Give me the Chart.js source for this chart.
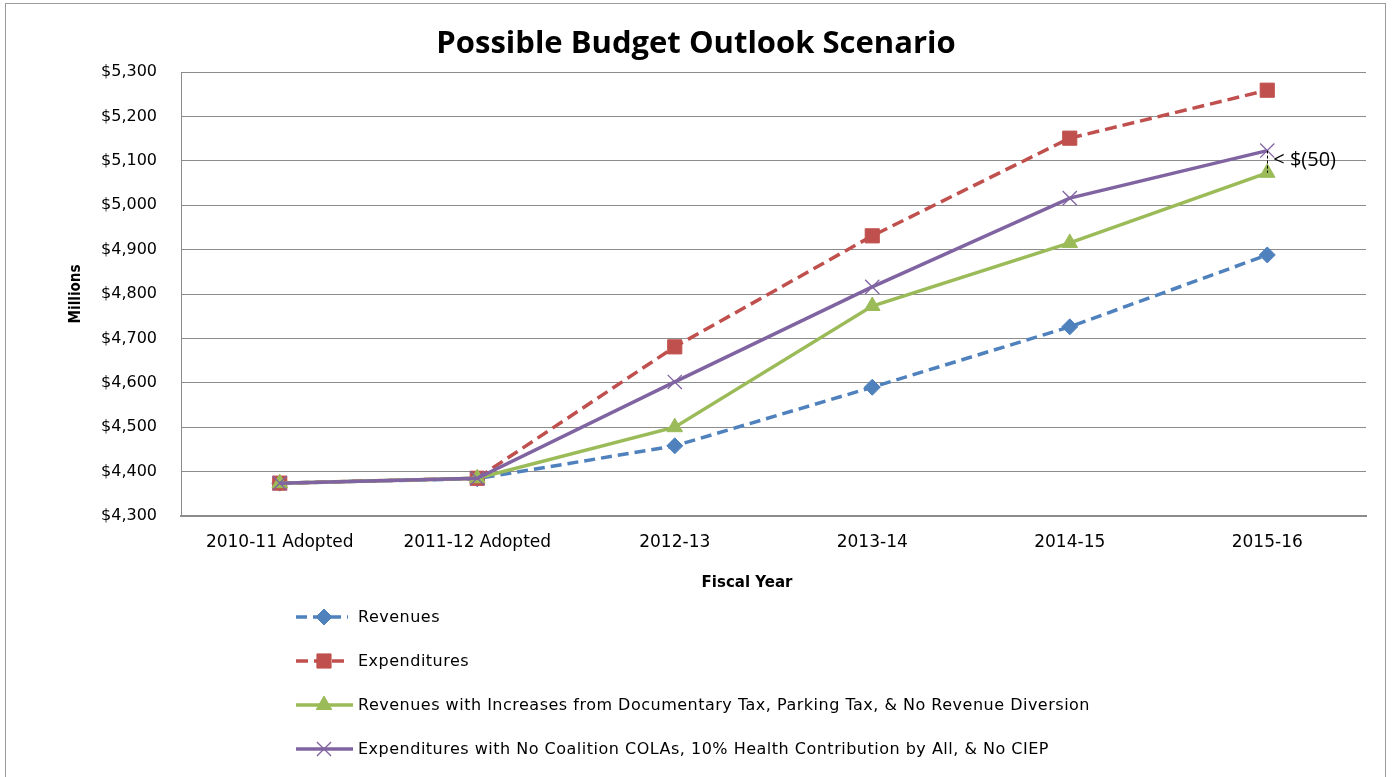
<!DOCTYPE html>
<html>
<head>
<meta charset="utf-8">
<title>Possible Budget Outlook Scenario</title>
<script src="https://cdn.jsdelivr.net/npm/chart.js@4.4.1/dist/chart.umd.min.js"></script>
<style>
  html, body { margin: 0; padding: 0; background: #fff; overflow: hidden; }
  #wrap { width: 1395px; height: 777px; position: relative; }
</style>
</head>
<body>
<div id="wrap"><canvas id="budget" width="1395" height="777"></canvas></div>
<script>
// Fiscal years and projected totals ($ millions)
const fiscalYears = ['2010-11 Adopted', '2011-12 Adopted', '2012-13', '2013-14', '2014-15', '2015-16'];
const revenues = [4374, 4384, 4458, 4590, 4726, 4888];
const expenditures = [4374, 4385, 4681, 4931, 5151, 5259];
const revenuesWithIncreases = [4374, 4385, 4500, 4773, 4915, 5073];
const expendituresReduced = [4374, 4385, 4602, 4816, 5016, 5123];
const yTicks = [4300, 4400, 4500, 4600, 4700, 4800, 4900, 5000, 5100, 5200, 5300];

const seriesNames = [
  'Revenues',
  'Expenditures',
  'Revenues with Increases from Documentary Tax, Parking Tax, & No Revenue Diversion',
  'Expenditures with No Coalition COLAs, 10% Health Contribution by All, & No CIEP'
];
const gapLabel = '< $(50)';
const titleText = 'Possible Budget Outlook Scenario';
const xTitle = 'Fiscal Year';

const BLUE = '#4F81BD', RED = '#C0504D', GREEN = '#9BBB59', PURPLE = '#8064A2';
const GRID = '#8c8c8c';

const fmtMoney = v => '$' + v.toLocaleString('en-US');

// Frame, titles, legend and the gap marker at the last year
const decorations = {
  id: 'decorations',
  beforeDraw(chart) {
    const ctx = chart.ctx;
    ctx.save();
    ctx.fillStyle = '#fff';
    ctx.fillRect(0, 0, chart.width, chart.height);
    ctx.strokeStyle = '#9a9a9a';
    ctx.lineWidth = 1;
    ctx.strokeRect(5.5, 3.5, 1380, 790);
    ctx.restore();
  },
  afterDraw(chart) {
    const ctx = chart.ctx;
    const x = chart.scales.x, y = chart.scales.y;
    ctx.save();

    // chart title
    ctx.fillStyle = '#000';
    ctx.font = 'bold 31px "Open Sans"';
    ctx.textAlign = 'center';
    ctx.textBaseline = 'middle';
    ctx.fillText(titleText, 696, 44);

    // category axis title
    ctx.font = 'bold 15px "DejaVu Sans"';
    ctx.fillText(xTitle, 747, 583);

    // dashed gap marker between the two reduced-scenario lines
    const last = fiscalYears.length - 1;
    const gx = x.getPixelForValue(last);
    const gTop = y.getPixelForValue(expendituresReduced[last]);
    const gBot = y.getPixelForValue(revenuesWithIncreases[last]);
    ctx.strokeStyle = '#000';
    ctx.lineWidth = 1;
    ctx.setLineDash([3, 2]);
    ctx.beginPath();
    ctx.moveTo(Math.round(gx) + 0.5, gTop);
    ctx.lineTo(Math.round(gx) + 0.5, gBot);
    ctx.stroke();
    ctx.setLineDash([]);
    ctx.font = '20px "Open Sans"';
    ctx.textAlign = 'left';
    ctx.textBaseline = 'middle';
    ctx.fillText(gapLabel, gx + 6, (gTop + gBot) / 2 - 1);

    // legend, one entry per row
    chart.data.datasets.forEach((ds, i) => {
      const ly = 617 + i * 44;
      ctx.strokeStyle = ds.borderColor;
      ctx.fillStyle = ds.borderColor;
      ctx.lineWidth = ds.borderWidth;
      ctx.setLineDash(ds.borderDash || []);
      ctx.lineCap = 'butt';
      ctx.beginPath();
      ctx.moveTo(296, ly);
      ctx.lineTo(ds.borderDash ? 348 : 353, ly);
      ctx.stroke();
      ctx.setLineDash([]);
      ctx.lineWidth = ds.pointBorderWidth;
      Chart.helpers.drawPoint(ctx, {
        pointStyle: ds.pointStyle,
        radius: ds.pointRadius,
        rotation: 0,
        borderWidth: ds.pointBorderWidth
      }, 324, ly);
      ctx.fillStyle = '#000';
      ctx.font = '16px "DejaVu Sans"';
      ctx.letterSpacing = '0.5px';
      ctx.textAlign = 'left';
      ctx.textBaseline = 'middle';
      ctx.fillText(ds.label, 358, ly + 1);
      ctx.letterSpacing = '0px';
    });
    ctx.restore();
  }
};

function series(label, data, color, opts) {
  return Object.assign({
    label, data,
    borderColor: color,
    backgroundColor: color,
    pointBackgroundColor: color,
    pointBorderColor: color,
    borderWidth: 3.5,
    pointBorderWidth: 1,
    tension: 0,
    fill: false
  }, opts);
}

new Chart(document.getElementById('budget'), {
  type: 'line',
  data: {
    labels: fiscalYears,
    datasets: [
      series(seriesNames[0], revenues, BLUE, { borderDash: [11, 6], pointStyle: 'rectRot', pointRadius: 8, order: 4 }),
      series(seriesNames[1], expenditures, RED, { borderDash: [12, 6], pointStyle: 'rect', pointRadius: 10, order: 3 }),
      series(seriesNames[2], revenuesWithIncreases, GREEN, { pointStyle: 'triangle', pointRadius: 9, order: 2 }),
      series(seriesNames[3], expendituresReduced, PURPLE, { pointStyle: 'crossRot', pointRadius: 10, pointBorderWidth: 1.3, order: 1 })
    ]
  },
  options: {
    responsive: false,
    animation: false,
    devicePixelRatio: 1,
    layout: { padding: { left: 0, top: 72, right: 29, bottom: 181 } },
    plugins: {
      legend: { display: false },
      title: { display: false },
      tooltip: { enabled: false }
    },
    scales: {
      x: {
        type: 'category',
        offset: true,
        grid: { display: false, drawTicks: false },
        border: { display: true, color: GRID, width: 2 },
        ticks: { color: '#000', font: { family: 'DejaVu Sans', size: 17 }, padding: 16, maxRotation: 0, autoSkip: false },
        afterFit(scale) { scale.height = 80; }
      },
      y: {
        min: 4300,
        max: 5300,
        afterBuildTicks(scale) { scale.ticks = yTicks.map(v => ({ value: v })); },
        grid: { color: GRID, lineWidth: 1, drawTicks: false },
        border: { display: true, color: GRID, width: 1 },
        ticks: { color: '#000', font: { family: 'DejaVu Sans', size: 16 }, padding: 24, callback: v => fmtMoney(v) },
        title: {
          display: true, text: 'Millions', color: '#000',
          font: { family: 'DejaVu Sans Condensed', size: 15, weight: 'bold' },
          padding: { top: 67, bottom: 0 }
        },
        afterFit(scale) { scale.width = 181; }
      }
    }
  },
  plugins: [decorations]
});
</script>
</body>
</html>
